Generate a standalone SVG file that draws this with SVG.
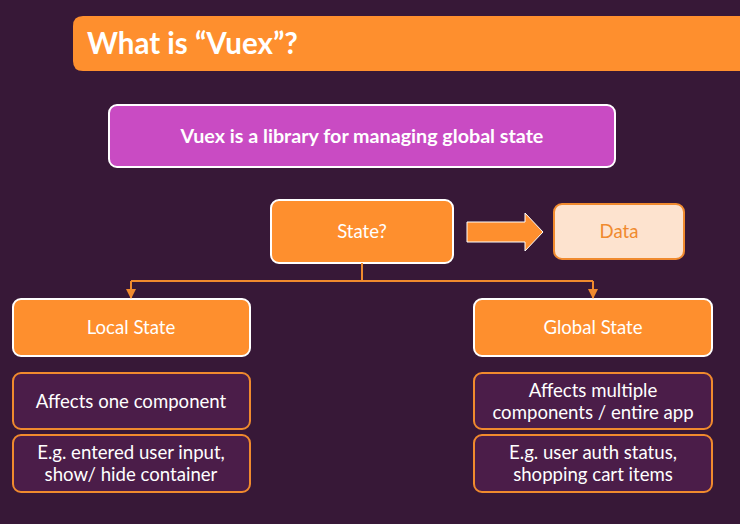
<svg xmlns="http://www.w3.org/2000/svg" width="740" height="524" viewBox="0 0 740 524">
  <defs>
    <marker id="tip" viewBox="0 0 10 10" refX="9" refY="5" markerWidth="5" markerHeight="5" orient="auto">
      <path d="M0,0 L10,5 L0,10 z" fill="#f08a2e"/>
    </marker>
    <style>
      .txt { font-family: Lato, "Open Sans", "Liberation Sans", sans-serif; text-anchor: middle; }
      .main { fill: #fe8f2e; stroke: #ffffff; stroke-width: 2; }
      .sub { fill: #4b1d49; stroke: #f08a2e; stroke-width: 2; }
      .w { fill: #ffffff; font-size: 18.6px; }
      .edge { fill: none; stroke: #f08a2e; stroke-width: 2; }
    </style>
  </defs>

  <!-- background -->
  <rect x="0" y="0" width="740" height="524" fill="#371837"/>

  <!-- title bar -->
  <g id="title">
    <path d="M83,16 H740 V71 H83 Q73,71 73,61 V26 Q73,16 83,16 Z" fill="#fe8f2e"/>
    <text x="87" y="54" font-family="Lato, 'Open Sans', 'Liberation Sans', sans-serif" font-size="29.5" font-weight="bold" fill="#ffffff">What is “Vuex”?</text>
  </g>

  <g id="definition">
    <rect x="109" y="105" width="506" height="62" rx="8" fill="#c94bc3" stroke="#ffffff" stroke-width="2"/>
    <text class="txt" x="362" y="143" fill="#ffffff" font-size="19.7" font-weight="bold">Vuex is a library for managing global state</text>
  </g>

  <g id="state">
    <rect class="main" x="271" y="200" width="182" height="63" rx="8"/>
    <text class="txt w" x="362" y="238">State?</text>
  </g>

  <g id="data">
    <rect x="554" y="204" width="130" height="55" rx="8" fill="#fde3cf" stroke="#f08a2e" stroke-width="2"/>
    <text class="txt" x="619" y="238" fill="#f08a2e" font-size="18.6">Data</text>
  </g>

  <g id="local-state">
    <rect class="main" x="13" y="299" width="237" height="57" rx="8"/>
    <text class="txt w" x="131" y="334">Local State</text>
  </g>

  <g id="global-state">
    <rect class="main" x="474" y="299" width="238" height="57" rx="8"/>
    <text class="txt w" x="593" y="334">Global State</text>
  </g>

  <g id="local-scope">
    <rect class="sub" x="13" y="373" width="237" height="56" rx="8"/>
    <text class="txt w" x="131" y="408">Affects one component</text>
  </g>

  <g id="local-example">
    <rect class="sub" x="13" y="435" width="237" height="57" rx="8"/>
    <text class="txt w" x="131" y="459">E.g. entered user input,</text>
    <text class="txt w" x="131" y="481">show/ hide container</text>
  </g>

  <g id="global-scope">
    <rect class="sub" x="474" y="373" width="238" height="56" rx="8"/>
    <text class="txt w" x="593" y="397">Affects multiple</text>
    <text class="txt w" x="593" y="419">components / entire app</text>
  </g>

  <g id="global-example">
    <rect class="sub" x="474" y="435" width="238" height="57" rx="8"/>
    <text class="txt w" x="593" y="459">E.g. user auth status,</text>
    <text class="txt w" x="593" y="481">shopping cart items</text>
  </g>

  <!-- connectors -->
  <g id="connectors">
    <path d="M467,222 H525 V213 L543,232 L525,251 V242 H467 Z" fill="#fe8f2e" stroke="#ffffff" stroke-width="1"/>
    <path class="edge" d="M362,263 V281"/>
    <path class="edge" d="M131,281 H593"/>
    <path class="edge" d="M131,281 V298" marker-end="url(#tip)"/>
    <path class="edge" d="M593,281 V298" marker-end="url(#tip)"/>
  </g>
</svg>
